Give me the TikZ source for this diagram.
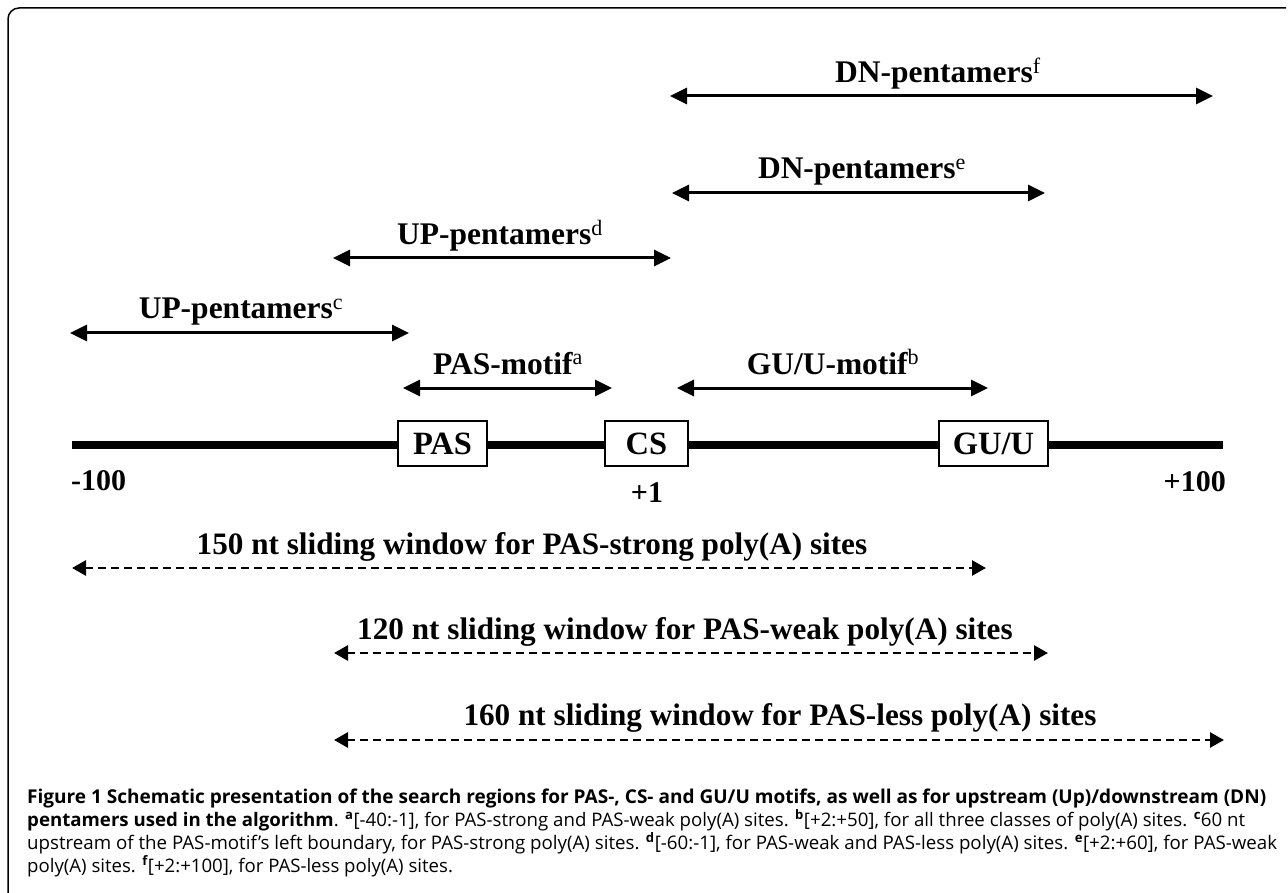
\documentclass[tikz,border=0pt]{standalone}
\usepackage{fontspec}
\setmainfont{Liberation Serif}
\newfontfamily\capfont{Open Sans}
\usetikzlibrary{arrows.meta}
\begin{document}
\begin{tikzpicture}[x=1pt,y={(0,-1pt)},
  lbl/.style={font=\fontsize{31.5}{34}\selectfont\bfseries, inner sep=0pt, anchor=base},
  wlbl/.style={font=\fontsize{31.2}{34}\selectfont\bfseries, inner sep=0pt, anchor=base},
  solidarrow/.style={line width=3pt,{Triangle[length=17pt,width=16pt]}-{Triangle[length=17pt,width=16pt]}},
  dasharrow/.style={line width=2.8pt,dash pattern=on 8pt off 5pt,{Triangle[length=14pt,width=15pt]}-{Triangle[length=14pt,width=15pt]}},
  boxnode/.style={draw,line width=2pt,fill=white,minimum height=45pt,inner sep=0pt,font=\fontsize{32.5}{34}\selectfont\bfseries},
  numlbl/.style={font=\fontsize{30}{32}\selectfont\bfseries, inner sep=0pt},
  capline/.style={anchor=base west,inner sep=0pt,font=\capfont\fontsize{18.6}{22}\selectfont}
]
\useasboundingbox (0,0) rectangle (1288,893);
% frame
\draw[line width=1.5pt,rounded corners=11pt] (8,893) -- (8,8) -- (1286,8);

% main line
\coordinate (Lstart) at (72,445);
\coordinate (Lend) at (1223,445);
\draw[line width=8pt] (Lstart) -- (Lend);
\node[boxnode,minimum width=89pt] (pas) at (442.5,443.5) {PAS};
\node[boxnode,minimum width=83pt] (cs) at (646.5,443.5) {CS};
\node[boxnode,minimum width=109pt] (gu) at (993.5,443.5) {GU/U};
\node[numlbl,anchor=west] (m100) at (71,481) {-100};
\node[numlbl] (p1) at (647,493) {+1};
\node[numlbl,anchor=east] (p100) at (1226,482) {+100};

% solid arrows
\coordinate (f1) at (670,96);  \coordinate (f2) at (1213,96);
\coordinate (e1) at (672,193); \coordinate (e2) at (1045,193);
\coordinate (d1) at (333,258); \coordinate (d2) at (671,258);
\coordinate (c1) at (70,333);  \coordinate (c2) at (409,333);
\coordinate (a1) at (403,388); \coordinate (a2) at (612,388);
\coordinate (b1) at (677,388); \coordinate (b2) at (988,388);
\draw[solidarrow] (f1) -- (f2);
\draw[solidarrow] (e1) -- (e2);
\draw[solidarrow] (d1) -- (d2);
\draw[solidarrow] (c1) -- (c2);
\draw[solidarrow] (a1) -- (a2);
\draw[solidarrow] (b1) -- (b2);
\node[lbl] (lf) at (938,83) {DN-pentamers\textsuperscript{\normalfont f}};
\node[lbl] (le) at (862,179) {DN-pentamers\textsuperscript{\normalfont e}};
\node[lbl] (ld) at (500,245) {UP-pentamers\textsuperscript{\normalfont d}};
\node[lbl] (lc) at (241,319) {UP-pentamers\textsuperscript{\normalfont c}};
\node[lbl] (la) at (508,374) {PAS-motif\textsuperscript{\normalfont a}};
\node[lbl] (lb) at (833,374) {GU/U-motif\textsuperscript{\normalfont b}};

% dashed windows
\coordinate (s1) at (72,568);  \coordinate (s2) at (986,568);
\coordinate (w1) at (334,653); \coordinate (w2) at (1048,653);
\coordinate (n1) at (334,740); \coordinate (n2) at (1224,740);
\draw[dasharrow] (s1) -- (s2);
\draw[dasharrow] (w1) -- (w2);
\draw[dasharrow] (n1) -- (n2);
\node[wlbl] (ls) at (532,554) {150 nt sliding window for PAS-strong poly(A) sites};
\node[wlbl] (lw) at (685,639) {120 nt sliding window for PAS-weak poly(A) sites};
\node[wlbl] (ln) at (780,725) {160 nt sliding window for PAS-less poly(A) sites};

% caption
\node[capline] (cap1) at (27,803) {\resizebox{1239pt}{!}{\bfseries Figure 1 Schematic presentation of the search regions for PAS-, CS- and GU/U motifs, as well as for upstream (Up)/downstream (DN)}};
\node[capline] (cap2) at (27,826) {\resizebox{1218pt}{!}{{\bfseries pentamers used in the algorithm}. \textsuperscript{\bfseries a}[-40:-1], for PAS-strong and PAS-weak poly(A) sites. \textsuperscript{\bfseries b}[+2:+50], for all three classes of poly(A) sites. \textsuperscript{\bfseries c}60 nt}};
\node[capline] (cap3) at (27,849) {\resizebox{1250pt}{!}{upstream of the PAS-motif’s left boundary, for PAS-strong poly(A) sites. \textsuperscript{\bfseries d}[-60:-1], for PAS-weak and PAS-less poly(A) sites. \textsuperscript{\bfseries e}[+2:+60], for PAS-weak}};
\node[capline] (cap4) at (27,872) {poly(A) sites. \textsuperscript{\bfseries f}[+2:+100], for PAS-less poly(A) sites.};
\end{tikzpicture}
\end{document}
